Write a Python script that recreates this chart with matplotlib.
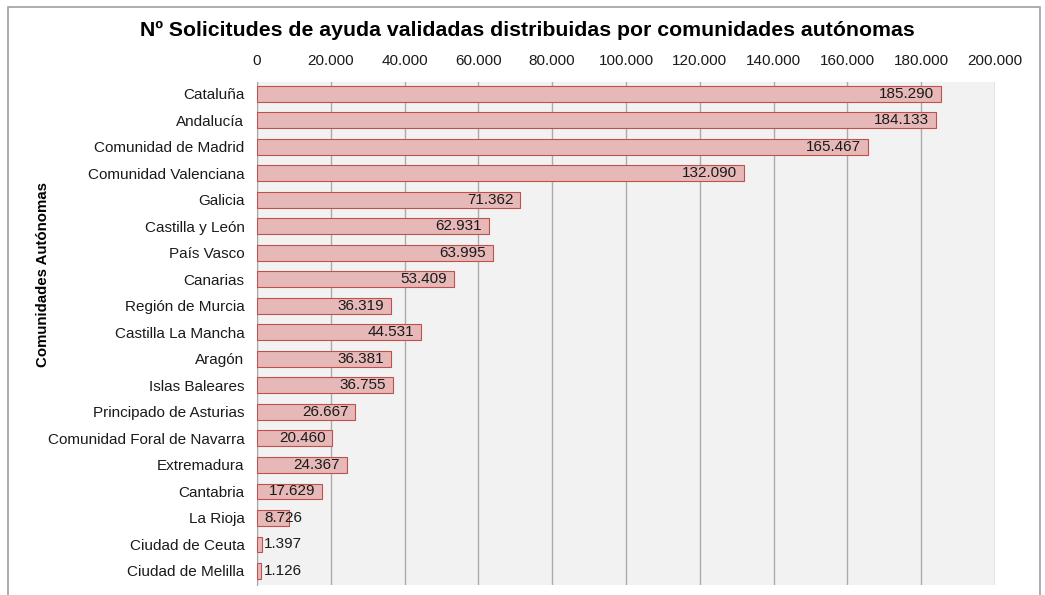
import matplotlib
matplotlib.use("Agg")
import matplotlib.pyplot as plt
from matplotlib.patches import Rectangle
from matplotlib.ticker import FuncFormatter, MultipleLocator

plt.rcParams['font.family'] = ['Liberation Sans', 'DejaVu Sans']

regions = ["Cataluña", "Andalucía", "Comunidad de Madrid", "Comunidad Valenciana",
           "Galicia", "Castilla y León", "País Vasco", "Canarias", "Región de Murcia",
           "Castilla La Mancha", "Aragón", "Islas Baleares", "Principado de Asturias",
           "Comunidad Foral de Navarra", "Extremadura", "Cantabria", "La Rioja",
           "Ciudad de Ceuta", "Ciudad de Melilla"]
values = [185290, 184133, 165467, 132090, 71362, 62931, 63995, 53409, 36319,
          44531, 36381, 36755, 26667, 20460, 24367, 17629, 8726, 1397, 1126]

title = "Nº Solicitudes de ayuda validadas distribuidas por comunidades autónomas"
ylabel = "Comunidades Autónomas"

def fmt(v):
    return f"{v:,.0f}".replace(",", ".")

fig = plt.figure(figsize=(10.45, 5.95), dpi=100)
ax = fig.add_axes([0.2459, 0.0168, 0.7062, 0.8454])
ax.set_facecolor("#f2f2f2")

ypos = list(range(len(regions)))
ax.barh(ypos, values, height=0.6, color="#e6b9b8", edgecolor="#c0504d", linewidth=0.8, zorder=3)
ax.set_ylim(len(regions) - 0.47, -0.45)
ax.set_xlim(0, 200000)
ax.set_yticks(ypos)
ax.set_yticklabels(regions, fontsize=11, color="#1a1a1a")
ax.xaxis.set_major_locator(MultipleLocator(20000))
ax.xaxis.set_major_formatter(FuncFormatter(lambda v, p: fmt(v)))
ax.xaxis.tick_top()
ax.tick_params(axis='x', labelsize=11, length=0, pad=10, labelcolor="#1a1a1a")
ax.tick_params(axis='y', length=0, pad=9)
ax.grid(axis='x', color="#ababab", linewidth=1.0, zorder=0)
for s in ["top", "right", "bottom"]:
    ax.spines[s].set_visible(False)
ax.spines["left"].set_color("#a6a6a6")

for y, v in zip(ypos, values):
    if v > 15000:
        ax.text(v - 1900, y, fmt(v), ha='right', va='center', fontsize=11, color="#1a1a1a", zorder=4)
    else:
        ax.text(2000, y, fmt(v), ha='left', va='center', fontsize=11, color="#1a1a1a", zorder=4)

fig.text(0.5045, 0.948, title, ha='center', va='center', fontsize=15.3, fontweight='bold')
fig.text(0.041, 0.539, ylabel, ha='center', va='center', rotation=90, fontsize=10.8, fontweight='bold')

fig.patches.append(Rectangle((8 / 1045, -0.05), (1040 - 8) / 1045, 1 - 7 / 595 + 0.05,
                             transform=fig.transFigure, fill=False, edgecolor="#a0a0a0",
                             linewidth=1.2))

fig.savefig("out.png", dpi=100)
